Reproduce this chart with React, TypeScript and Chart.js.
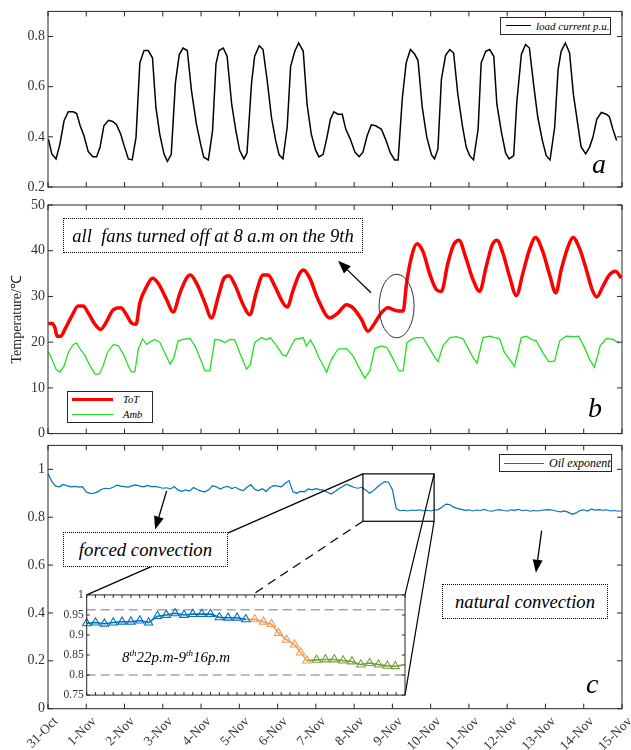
import React, { useEffect, useRef } from "react";
import { Chart, registerables } from "chart.js";

Chart.register(...registerables);

// ---------- axis ticks / labels ----------
const dayLabels = ["31-Oct", "1-Nov", "2-Nov", "3-Nov", "4-Nov", "5-Nov", "6-Nov", "7-Nov", "8-Nov", "9-Nov", "10-Nov", "11-Nov", "12-Nov", "13-Nov", "14-Nov", "15-Nov"];
const loadTicks = [0.2, 0.4, 0.6, 0.8];
const tempTicks = [0, 10, 20, 30, 40, 50];
const oilTicks = [0, 0.2, 0.4, 0.6, 0.8, 1];
const insetYTicks = [0.75, 0.8, 0.85, 0.9, 0.95, 1];
const insetRefLines = [0.963, 0.8];

// ---------- panel a: load current (days since 31-Oct 00:00) ----------
const loadDays = [0.01, 0.10, 0.21, 0.31, 0.42, 0.53, 0.66, 0.75, 0.84, 0.94, 1.05, 1.17, 1.27, 1.36, 1.46, 1.58, 1.69, 1.79, 1.90, 1.98, 2.10, 2.20, 2.30, 2.40, 2.51, 2.62, 2.73, 2.82, 2.92, 3.03, 3.12, 3.22, 3.33, 3.43, 3.53, 3.64, 3.75, 3.88, 3.99, 4.07, 4.19, 4.30, 4.39, 4.47, 4.58, 4.68, 4.80, 4.91, 5.01, 5.12, 5.20, 5.32, 5.40, 5.52, 5.62, 5.73, 5.84, 5.95, 6.04, 6.14, 6.25, 6.34, 6.45, 6.55, 6.67, 6.77, 6.88, 6.99,
  7.08, 7.19, 7.29, 7.38, 7.47, 7.58, 7.69, 7.78, 7.90, 8.02, 8.13, 8.23, 8.34, 8.45, 8.56, 8.71, 8.82, 8.95, 9.06, 9.15, 9.26, 9.36, 9.47, 9.58, 9.67, 9.78, 9.90, 10.02, 10.10, 10.19, 10.28, 10.39, 10.50, 10.60, 10.71, 10.83, 10.93, 11.02, 11.12, 11.24, 11.32, 11.44, 11.54, 11.65, 11.73, 11.85, 11.96, 12.05, 12.17, 12.25, 12.37, 12.48, 12.58, 12.69, 12.80, 12.92, 13.02, 13.12, 13.24, 13.33, 13.41, 13.52, 13.63, 13.73, 13.85, 13.93, 14.05, 14.15, 14.24, 14.34, 14.46, 14.59, 14.67, 14.76, 14.86];
const loadValues = [0.391, 0.332, 0.312, 0.370, 0.464, 0.500, 0.500, 0.493, 0.444, 0.404, 0.342, 0.321, 0.321, 0.358, 0.444, 0.466, 0.461, 0.448, 0.411, 0.369, 0.312, 0.308, 0.398, 0.695, 0.744, 0.744, 0.715, 0.517, 0.411, 0.332, 0.302, 0.329, 0.616, 0.728, 0.754, 0.744, 0.583, 0.450, 0.370, 0.319, 0.308, 0.424, 0.691, 0.744, 0.754, 0.721, 0.530, 0.424, 0.345, 0.312, 0.335, 0.616, 0.721, 0.763, 0.748, 0.622, 0.477, 0.385, 0.328, 0.312, 0.437, 0.681, 0.741, 0.774, 0.741, 0.530, 0.411, 0.348,
  0.320, 0.330, 0.398, 0.470, 0.500, 0.490, 0.490, 0.431, 0.391, 0.339, 0.321, 0.339, 0.404, 0.448, 0.444, 0.431, 0.391, 0.335, 0.308, 0.308, 0.556, 0.695, 0.748, 0.730, 0.704, 0.517, 0.398, 0.329, 0.312, 0.352, 0.629, 0.725, 0.748, 0.734, 0.569, 0.444, 0.358, 0.325, 0.308, 0.431, 0.695, 0.741, 0.748, 0.721, 0.530, 0.418, 0.335, 0.312, 0.325, 0.536, 0.728, 0.768, 0.754, 0.609, 0.477, 0.385, 0.325, 0.308, 0.437, 0.668, 0.741, 0.774, 0.734, 0.569, 0.444, 0.361, 0.332, 0.358, 0.398, 0.470, 0.497, 0.490, 0.480, 0.431, 0.385];

// ---------- panel b: temperatures ----------
const totDays = [0.01, 0.10, 0.18, 0.24, 0.33, 0.44, 0.62, 0.79, 0.92, 1.05, 1.23, 1.38, 1.51, 1.71, 1.90, 2.05, 2.18, 2.30, 2.40, 2.58, 2.73, 2.88, 3.10, 3.27, 3.45, 3.62, 3.72, 3.88, 4.10, 4.27, 4.45, 4.60, 4.73, 4.88, 5.10, 5.27, 5.45, 5.62, 5.75, 5.93, 6.14, 6.25, 6.41, 6.58, 6.68, 6.84, 7.06, 7.36, 7.58, 7.80, 7.97, 8.19, 8.36, 8.54, 8.71, 8.89, 9.02, 9.15, 9.28, 9.37, 9.50, 9.64, 9.80, 9.97, 10.15, 10.28, 10.45, 10.60, 10.74, 10.91, 11.11, 11.28, 11.45, 11.61, 11.73, 11.89, 12.06, 12.24, 12.41, 12.58, 12.74, 12.93, 13.11, 13.27, 13.41, 13.59, 13.72, 13.89, 14.07, 14.22, 14.34, 14.50, 14.67, 14.83, 14.98];
const totValues = [24.1, 24.1, 23.2, 21.3, 21.3, 22.8, 25.7, 27.9, 27.9, 26.4, 23.9, 22.8, 24.2, 27.1, 27.5, 26.0, 24.2, 23.9, 28.6, 32.2, 34.0, 32.9, 29.3, 26.6, 30.8, 34.0, 34.7, 32.9, 28.6, 25.3, 30.0, 34.0, 34.5, 32.6, 28.2, 26.0, 31.1, 34.7, 34.7, 32.2, 28.6, 27.7, 31.5, 35.1, 35.8, 34.0, 29.3, 25.3, 26.4, 28.2, 27.5, 25.0, 22.4, 24.2, 26.4, 27.5, 27.1, 26.8, 26.8, 32.9, 38.7, 41.5, 39.8, 35.1, 31.5, 31.1, 37.3, 41.3, 42.3, 38.7, 33.6, 31.1, 36.5, 41.3, 42.3, 39.4, 34.4, 30.2, 35.1, 40.2, 42.9, 39.8, 34.7, 30.8, 35.8, 40.9, 42.9, 40.5, 35.8, 31.5, 29.9, 32.2, 34.7, 35.5, 34.0];
const ambDays = [0.01, 0.10, 0.21, 0.31, 0.42, 0.53, 0.66, 0.75, 0.84, 0.97, 1.10, 1.23, 1.34, 1.44, 1.55, 1.71, 1.84, 1.97, 2.10, 2.18, 2.27, 2.36, 2.47, 2.58, 2.66, 2.79, 2.92, 3.05, 3.19, 3.29, 3.40, 3.53, 3.71, 3.84, 3.97, 4.10, 4.23, 4.36, 4.49, 4.62, 4.75, 4.88, 5.01, 5.19, 5.29, 5.40, 5.58, 5.71, 5.81, 5.97, 6.13, 6.23, 6.36, 6.45, 6.58, 6.67, 6.75, 6.86, 6.97, 7.08, 7.15, 7.28, 7.41, 7.58, 7.80, 7.97, 8.15, 8.28, 8.41, 8.54, 8.71, 8.86, 9.02, 9.17, 9.28, 9.38, 9.50, 9.63, 9.80, 9.93, 10.06, 10.19, 10.32, 10.50, 10.67, 10.84, 10.97, 11.11, 11.21, 11.37, 11.54, 11.67, 11.80, 11.93, 12.06, 12.19, 12.37, 12.50, 12.63, 12.76, 12.93, 13.09, 13.24, 13.37, 13.54, 13.76, 13.87, 14.02, 14.15, 14.28, 14.43, 14.59, 14.76, 14.93];
const ambValues = [17.9, 16.3, 14.1, 13.4, 14.8, 17.7, 19.5, 19.8, 18.5, 17.0, 14.8, 13.0, 13.0, 14.8, 17.7, 19.5, 19.2, 17.4, 14.8, 13.5, 13.5, 18.5, 20.7, 19.5, 20.0, 20.6, 20.0, 17.7, 15.2, 16.6, 20.3, 20.6, 20.8, 19.2, 16.6, 13.7, 13.7, 20.6, 20.5, 19.9, 20.6, 20.5, 17.7, 14.1, 15.2, 19.9, 21.0, 20.5, 21.0, 19.3, 17.2, 17.0, 19.2, 20.6, 20.8, 21.0, 19.2, 20.5, 18.8, 16.6, 15.6, 13.4, 16.3, 18.5, 18.6, 17.0, 14.1, 12.1, 13.7, 18.6, 19.2, 18.8, 16.3, 13.7, 13.7, 19.9, 20.6, 21.0, 21.0, 19.2, 17.4, 15.7, 19.2, 21.0, 21.2, 20.8, 18.8, 16.6, 15.4, 21.0, 21.3, 21.0, 20.8, 17.7, 16.3, 14.7, 21.0, 21.3, 20.6, 20.3, 17.7, 15.7, 15.9, 20.3, 21.3, 21.2, 21.3, 18.8, 16.3, 14.5, 19.2, 20.8, 20.6, 19.8];

// ---------- panel c: oil exponent, one reading every 0.1 day from 31-Oct ----------
const oilStepDays = 0.1;
const oilValues = [
  0.983, 0.950, 0.930, 0.927, 0.937, 0.931, 0.927, 0.929, 0.926, 0.928,
  0.905, 0.900, 0.901, 0.906, 0.917, 0.921, 0.919, 0.925, 0.934, 0.930,
  0.928, 0.926, 0.932, 0.935, 0.930, 0.927, 0.933, 0.928, 0.929, 0.925,
  0.921, 0.923, 0.918, 0.928, 0.913, 0.908, 0.914, 0.909, 0.924, 0.916,
  0.909, 0.906, 0.915, 0.932, 0.927, 0.918, 0.925, 0.929, 0.920, 0.925,
  0.916, 0.911, 0.925, 0.936, 0.917, 0.911, 0.919, 0.908, 0.924, 0.932,
  0.930, 0.927, 0.942, 0.953, 0.906, 0.900, 0.908, 0.906, 0.918, 0.914,
  0.919, 0.915, 0.913, 0.904, 0.897, 0.907, 0.919, 0.928, 0.938, 0.931,
  0.924, 0.921, 0.925, 0.914, 0.900, 0.910, 0.925, 0.938, 0.949, 0.946,
  0.915, 0.836, 0.827, 0.829, 0.826, 0.830, 0.828, 0.831, 0.827, 0.829,
  0.826, 0.830, 0.832, 0.843, 0.855, 0.853, 0.842, 0.837, 0.833, 0.829,
  0.831, 0.826, 0.830, 0.828, 0.833, 0.827, 0.825, 0.829, 0.832, 0.828,
  0.826, 0.831, 0.829, 0.833, 0.827, 0.830, 0.825, 0.828, 0.826, 0.829,
  0.831, 0.832, 0.829, 0.825, 0.822, 0.826, 0.820, 0.812, 0.818, 0.828,
  0.831, 0.826, 0.834, 0.830, 0.832, 0.829, 0.831, 0.826, 0.828, 0.825,
  0.827];

// ---------- inset: 8th 22 p.m. to 9th 16 p.m. (hours after 22:00) ----------
const insetHours = [0, 0.5, 1, 1.5, 2, 2.5, 3, 3.5, 4, 4.5, 5, 5.5, 6, 6.5, 7, 7.5, 8, 8.5, 9,
  9.5, 10, 10.45, 10.85, 11.3, 11.75, 12.1, 12.45,
  13, 13.5, 14, 14.5, 15, 15.5, 16, 16.5, 17, 17.45, 18];
const insetValues = [0.929, 0.931, 0.928, 0.931, 0.933, 0.933, 0.936, 0.931, 0.947, 0.950, 0.954, 0.950, 0.952, 0.952, 0.952, 0.944, 0.943, 0.943, 0.939,
  0.939, 0.933, 0.927, 0.905, 0.888, 0.876, 0.856, 0.836,
  0.838, 0.839, 0.839, 0.836, 0.834, 0.826, 0.830, 0.826, 0.823, 0.822, 0.826];
const insetBlueCount = 19;
const insetOrangeCount = 8;

// ---------- annotations (data coordinates) ----------
const fanArrow = { from: [8.44, 30.8], to: [7.58, 37.8] };
const fanEllipse = { day: 9.11, temp: 27.9, rDay: 0.457, rTemp: 6.95 };
const zoomBox = { day0: 8.23, day1: 10.09, v0: 0.783, v1: 0.981 };
const forcedArrow = { from: [3.10, 0.910], to: [2.80, 0.749] };
const naturalArrow = { from: [12.90, 0.744], to: [12.75, 0.568] };
const insetDashHour = 9.35;

// ---------- layout ----------
const W = 631;
const PA = { top: 0, h: 200 };
const PB = { top: 190, h: 255 };
const PC = { top: 434, h: 316 };
const INS = { left: 40, top: 585, w: 375, h: 120 };
const SERIF = "'Liberation Serif', 'Times New Roman', serif";
const AX = "#262626";
const TICK = "#333333";

const pairs = (xs: number[], ys: number[]) => xs.map((x, i) => ({ x, y: ys[i] }));
const fmt = (v: any) => String(Number(Number(v).toFixed(2)));

function drawArrow(ctx: any, x1: number, y1: number, x2: number, y2: number, L = 13, h = 5) {
  const a = Math.atan2(y2 - y1, x2 - x1);
  const bx = x2 - L * Math.cos(a), by = y2 - L * Math.sin(a);
  ctx.beginPath(); ctx.moveTo(x1, y1); ctx.lineTo(bx, by); ctx.stroke();
  ctx.beginPath(); ctx.moveTo(x2, y2);
  ctx.lineTo(bx + h * Math.sin(a), by - h * Math.cos(a));
  ctx.lineTo(bx - h * Math.sin(a), by + h * Math.cos(a));
  ctx.closePath(); ctx.fill();
}

function framePlugin(len: number) {
  return {
    id: "frameTicks",
    afterDatasetsDraw(chart: any) {
      const { ctx, chartArea: a, scales } = chart;
      const xs = scales.x, ys = scales.y;
      ctx.save();
      ctx.strokeStyle = AX; ctx.lineWidth = 1;
      ctx.beginPath();
      xs.ticks.forEach((t: any) => {
        const p = xs.getPixelForValue(t.value);
        ctx.moveTo(p, a.bottom); ctx.lineTo(p, a.bottom - len);
        ctx.moveTo(p, a.top); ctx.lineTo(p, a.top + len);
      });
      ys.ticks.forEach((t: any) => {
        const p = ys.getPixelForValue(t.value);
        ctx.moveTo(a.left, p); ctx.lineTo(a.left + len, p);
        ctx.moveTo(a.right, p); ctx.lineTo(a.right - len, p);
      });
      ctx.stroke();
      ctx.strokeRect(a.left, a.top, a.right - a.left, a.bottom - a.top);
      ctx.restore();
    },
  };
}

function yAxis(min: number, max: number, ticks: number[], width: number, size: number, extra: any = {}) {
  return {
    type: "linear", min, max,
    afterBuildTicks: (s: any) => { s.ticks = ticks.map((v) => ({ value: v })); },
    afterFit: (s: any) => { s.width = width; },
    grid: { display: false, drawTicks: false },
    border: { display: false },
    ticks: { font: { family: SERIF, size }, color: TICK, padding: 3, callback: fmt },
    ...extra,
  };
}

function xAxis(min: number, max: number, ticks: number[], extra: any = {}) {
  return {
    type: "linear", min, max,
    afterBuildTicks: (s: any) => { s.ticks = ticks.map((v) => ({ value: v })); },
    afterFit: (s: any) => { s.height = 0; },
    grid: { display: false, drawTicks: false },
    border: { display: false },
    ticks: { display: false },
    ...extra,
  };
}

const baseOptions = (padding: any) => ({
  animation: false,
  responsive: false,
  maintainAspectRatio: false,
  events: [],
  layout: { padding },
  plugins: { legend: { display: false }, tooltip: { enabled: false } },
});

export default function App() {
  const aRef = useRef<HTMLCanvasElement>(null);
  const bRef = useRef<HTMLCanvasElement>(null);
  const cRef = useRef<HTMLCanvasElement>(null);
  const iRef = useRef<HTMLCanvasElement>(null);

  useEffect(() => {
    const charts: any[] = [];
    const dayTicks = dayLabels.map((_, i) => i);

    // panel a
    charts.push(new Chart(aRef.current as any, {
      type: "line",
      data: { datasets: [{ data: pairs(loadDays, loadValues), borderColor: "#000", borderWidth: 1.5, pointRadius: 0, tension: 0 }] },
      options: {
        ...baseOptions({ top: 10, right: 9, bottom: 13, left: 0 }),
        scales: { x: xAxis(0, 15, dayTicks), y: yAxis(0.2, 0.9, loadTicks, 48, 14) },
      } as any,
      plugins: [framePlugin(5)],
    }));

    // panel b
    const bAnno = {
      id: "bAnno",
      afterDatasetsDraw(chart: any) {
        const { ctx, scales: { x, y } } = chart;
        ctx.save();
        ctx.strokeStyle = "#333"; ctx.lineWidth = 1;
        const cx = x.getPixelForValue(fanEllipse.day), cy = y.getPixelForValue(fanEllipse.temp);
        const rx = x.getPixelForValue(fanEllipse.day + fanEllipse.rDay) - cx;
        const ry = cy - y.getPixelForValue(fanEllipse.temp + fanEllipse.rTemp);
        ctx.beginPath(); ctx.ellipse(cx, cy, rx, ry, 0, 0, Math.PI * 2); ctx.stroke();
        ctx.strokeStyle = "#000"; ctx.fillStyle = "#000"; ctx.lineWidth = 1.3;
        drawArrow(ctx, x.getPixelForValue(fanArrow.from[0]), y.getPixelForValue(fanArrow.from[1]),
          x.getPixelForValue(fanArrow.to[0]), y.getPixelForValue(fanArrow.to[1]));
        ctx.restore();
      },
    };
    charts.push(new Chart(bRef.current as any, {
      type: "line",
      data: {
        datasets: [
          { data: pairs(ambDays, ambValues), borderColor: "#22E022", borderWidth: 1.3, pointRadius: 0, tension: 0 },
          { data: pairs(totDays, totValues), borderColor: "#FF0000", borderWidth: 3.5, pointRadius: 0, cubicInterpolationMode: "monotone" },
        ],
      },
      options: {
        ...baseOptions({ top: 15, right: 9, bottom: 10, left: 0 }),
        scales: {
          x: xAxis(0, 15, dayTicks),
          y: yAxis(0, 50, tempTicks, 48, 14, {
            title: { display: true, text: "Temperature/℃", font: { family: SERIF, size: 14 }, color: AX, padding: { top: 8.6, bottom: 0 } },
          }),
        },
      } as any,
      plugins: [framePlugin(5), bAnno],
    }));

    // inset
    const insetBlue = pairs(insetHours.slice(0, insetBlueCount), insetValues.slice(0, insetBlueCount));
    const insetOrange = pairs(insetHours.slice(insetBlueCount - 1, insetBlueCount + insetOrangeCount), insetValues.slice(insetBlueCount - 1, insetBlueCount + insetOrangeCount));
    const insetGreen = pairs(insetHours.slice(insetBlueCount + insetOrangeCount - 1), insetValues.slice(insetBlueCount + insetOrangeCount - 1));
    const insetHourTicks = Array.from({ length: 37 }, (_, i) => i * 0.5);
    const tri = (color: string, hideFirst: boolean, hideLast: boolean) => ({
      borderColor: color, borderWidth: 1.6, pointStyle: "triangle",
      pointRadius: (c: any) => ((hideFirst && c.dataIndex === 0) || (hideLast && c.dataIndex === c.dataset.data.length - 1) ? 0 : 4.8),
      pointBorderColor: color, pointBorderWidth: 1.1, pointBackgroundColor: "rgba(255,255,255,0)",
      tension: 0, clip: false,
    });
    const insetBg = {
      id: "insetBg",
      beforeDraw(chart: any) {
        const { ctx, chartArea: a } = chart;
        ctx.save(); ctx.fillStyle = "#fff"; ctx.fillRect(a.left, a.top, a.right - a.left, a.bottom - a.top); ctx.restore();
      },
      beforeDatasetsDraw(chart: any) {
        const { ctx, chartArea: a, scales: { y } } = chart;
        ctx.save(); ctx.strokeStyle = "#A6A6A6"; ctx.lineWidth = 1.4; ctx.setLineDash([9, 5]);
        insetRefLines.forEach((v) => {
          const p = y.getPixelForValue(v);
          ctx.beginPath(); ctx.moveTo(a.left, p); ctx.lineTo(a.right, p); ctx.stroke();
        });
        ctx.restore();
      },
    };
    const inset = new Chart(iRef.current as any, {
      type: "line",
      data: {
        datasets: [
          { data: insetBlue, ...tri("#0072BD", false, false) },
          { data: insetOrange, ...tri("#F39B55", true, false) },
          { data: insetGreen, ...tri("#77A03A", true, true) },
        ],
      },
      options: {
        ...baseOptions({ top: 7, right: 10, bottom: 7, left: 0 }),
        scales: { x: xAxis(0, 18, insetHourTicks), y: yAxis(0.75, 1, insetYTicks, 46.7, 11.5) },
      } as any,
      plugins: [insetBg, framePlugin(3)],
    });
    charts.push(inset);
    const ia = inset.chartArea;
    const geo = {
      left: INS.left + ia.left, right: INS.left + ia.right,
      top: INS.top + ia.top - PC.top, bottom: INS.top + ia.bottom - PC.top,
      dashX: INS.left + inset.scales.x.getPixelForValue(insetDashHour),
    };

    // panel c
    const cAnno = {
      id: "cAnno",
      afterDatasetsDraw(chart: any) {
        const { ctx, scales: { x, y } } = chart;
        const x0 = x.getPixelForValue(zoomBox.day0), x1 = x.getPixelForValue(zoomBox.day1);
        const yT = y.getPixelForValue(zoomBox.v1), yB = y.getPixelForValue(zoomBox.v0);
        ctx.save();
        ctx.strokeStyle = "#000"; ctx.fillStyle = "#000"; ctx.lineWidth = 1.2;
        ctx.strokeRect(x0, yT, x1 - x0, yB - yT);
        ctx.beginPath();
        ctx.moveTo(x0, yT); ctx.lineTo(geo.left, geo.top);
        ctx.moveTo(x1, yT); ctx.lineTo(geo.right, geo.top);
        ctx.moveTo(x1, yB); ctx.lineTo(geo.right, geo.bottom);
        ctx.stroke();
        ctx.setLineDash([9, 6]);
        ctx.beginPath(); ctx.moveTo(x0, yB); ctx.lineTo(geo.dashX, geo.top); ctx.stroke();
        ctx.setLineDash([]);
        ctx.lineWidth = 1.3;
        drawArrow(ctx, x.getPixelForValue(forcedArrow.from[0]), y.getPixelForValue(forcedArrow.from[1]),
          x.getPixelForValue(forcedArrow.to[0]), y.getPixelForValue(forcedArrow.to[1]));
        drawArrow(ctx, x.getPixelForValue(naturalArrow.from[0]), y.getPixelForValue(naturalArrow.from[1]),
          x.getPixelForValue(naturalArrow.to[0]), y.getPixelForValue(naturalArrow.to[1]));
        ctx.restore();
      },
    };
    charts.push(new Chart(cRef.current as any, {
      type: "line",
      data: { datasets: [{ data: oilValues.map((v, i) => ({ x: i * oilStepDays, y: v })), borderColor: "#0072BD", borderWidth: 1.2, pointRadius: 0, tension: 0 }] },
      options: {
        ...baseOptions({ top: 10, right: 9, bottom: 0, left: 0 }),
        scales: {
          x: {
            type: "linear", min: 0, max: 15,
            afterBuildTicks: (s: any) => { s.ticks = dayTicks.map((v) => ({ value: v })); },
            afterFit: (s: any) => { s.height = 41.3; s.paddingLeft = 0; s.paddingRight = 0; },
            grid: { display: false, drawTicks: false },
            border: { display: false },
            ticks: { autoSkip: false, minRotation: 45, maxRotation: 45, padding: 5, labelOffset: 8, font: { family: SERIF, size: 13.5 }, color: TICK, callback: (v: any) => dayLabels[Math.round(v)] },
          },
          y: yAxis(0, 1.1, oilTicks, 48, 14),
        },
      } as any,
      plugins: [framePlugin(5), cAnno],
    }));

    return () => charts.forEach((c) => c.destroy());
  }, []);

  const abs = (l: number, t: number, w: number, h: number, extra: any = {}) => ({ position: "absolute" as const, left: l, top: t, width: w, height: h, boxSizing: "border-box" as const, ...extra });
  const it = (size: number, extra: any = {}) => ({ fontFamily: SERIF, fontStyle: "italic", fontSize: size, color: "#000", whiteSpace: "pre" as const, ...extra });
  const dotted = { border: "1px dotted #000", display: "flex", alignItems: "center", justifyContent: "center" };

  return (
    <div style={{ position: "absolute", left: 0, top: 0, width: W, height: 750, background: "#fff", overflow: "hidden" }}>
      <canvas ref={aRef} width={W} height={PA.h} style={{ position: "absolute", left: 0, top: PA.top, width: W, height: PA.h }} />
      <canvas ref={bRef} width={W} height={PB.h} style={{ position: "absolute", left: 0, top: PB.top, width: W, height: PB.h }} />
      <canvas ref={cRef} width={W} height={PC.h} style={{ position: "absolute", left: 0, top: PC.top, width: W, height: PC.h }} />
      <canvas ref={iRef} width={INS.w} height={INS.h} style={{ position: "absolute", left: INS.left, top: INS.top, width: INS.w, height: INS.h }} />

      {/* legend a */}
      <div style={abs(500, 17, 111, 18, { border: "1px solid " + AX, background: "#fff" })}>
        <div style={{ position: "absolute", left: 5, top: 7, width: 25, borderTop: "1.5px solid #000" }} />
        <span style={{ position: "absolute", left: 35, top: 0, lineHeight: "16px", ...it(11) }}>load current p.u.</span>
      </div>
      {/* legend b */}
      <div style={abs(67, 391, 86, 32, { border: "1px solid " + AX, background: "#fff" })}>
        <div style={{ position: "absolute", left: 4, top: 6, width: 41, borderTop: "3.5px solid #FF0000" }} />
        <span style={{ position: "absolute", left: 55, top: 1, lineHeight: "14px", ...it(10.5) }}>ToT</span>
        <div style={{ position: "absolute", left: 4, top: 21.5, width: 41, borderTop: "1.3px solid #22E022" }} />
        <span style={{ position: "absolute", left: 55, top: 15.5, lineHeight: "14px", ...it(10.5) }}>Amb</span>
      </div>
      {/* legend c */}
      <div style={abs(499, 454, 113, 18, { border: "1px solid " + AX, background: "#fff" })}>
        <div style={{ position: "absolute", left: 4, top: 7.5, width: 40, borderTop: "1.5px solid #0072BD" }} />
        <span style={{ position: "absolute", left: 49, top: 0, lineHeight: "16px", ...it(12) }}>Oil exponent</span>
      </div>

      {/* annotations */}
      <div style={abs(63, 218, 300, 35, dotted)}><span style={it(18.6)}>all  fans turned off at 8 a.m on the 9th</span></div>
      <div style={abs(63, 532, 165, 35, { ...dotted, background: "#fff" })}><span style={it(18.8)}>forced convection</span></div>
      <div style={abs(442, 584, 166, 35, { ...dotted, background: "#fff" })}><span style={it(18.6)}>natural convection</span></div>
      <div style={{ position: "absolute", left: 122, top: 649, lineHeight: "16px", ...it(15) }}>
        8<sup style={{ fontSize: 9, lineHeight: 0 }}>th</sup>22p.m-9<sup style={{ fontSize: 9, lineHeight: 0 }}>th</sup>16p.m
      </div>

      {/* panel letters */}
      <div style={{ position: "absolute", left: 592, top: 150, lineHeight: "28px", ...it(28) }}>a</div>
      <div style={{ position: "absolute", left: 588, top: 394, lineHeight: "28px", ...it(28) }}>b</div>
      <div style={{ position: "absolute", left: 586, top: 670, lineHeight: "28px", ...it(28) }}>c</div>
    </div>
  );
}
